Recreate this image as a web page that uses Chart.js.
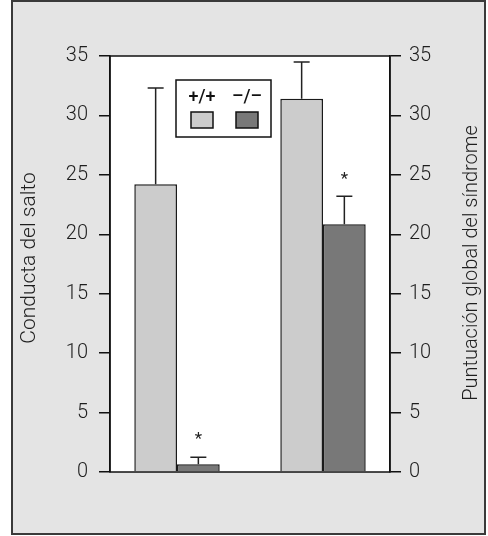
<!DOCTYPE html>
<html><head><meta charset="utf-8">
<script src="https://cdn.jsdelivr.net/npm/chart.js@4/dist/chart.umd.min.js"></script>
<style>html,body{margin:0;padding:0;background:#fff;}#wrap{width:488px;height:536px;}</style>
</head><body><div id="wrap"><canvas id="c" width="488" height="536"></canvas></div>
<script>
// ---- data ----
const groupPos = [1, 2];                     // group 1 (left axis), group 2 (right axis)
const seriesLabels = ['+/+', '\u2013/\u2013'];
const wildType = [24.2, 31.4];
const wildTypeErr = [32.3, 34.5];            // top of error bar
const knockout = [0.65, 20.85];
const knockoutErr = [1.25, 23.2];
const knockoutSig = ['*', '*'];
const yTicks = [0, 5, 10, 15, 20, 25, 30, 35];
const leftTitle = 'Conducta del salto';
const rightTitle = 'Puntuaci\u00f3n global del s\u00edndrome';

const FONT = 'Roboto';
const TXT = '#1e1e1e';

const bgPlugin = {
  id: 'bg',
  beforeDraw(chart) {
    const ctx = chart.ctx, a = chart.chartArea;
    ctx.save();
    ctx.fillStyle = '#ffffff';
    ctx.fillRect(0, 0, chart.width, chart.height);
    ctx.fillStyle = '#e4e4e4';
    ctx.fillRect(12, 1, 473, 533);
    ctx.strokeStyle = '#3a3a3a';
    ctx.lineWidth = 2;
    ctx.strokeRect(12, 1, 473, 533);
    ctx.fillStyle = '#ffffff';
    ctx.fillRect(a.left, a.top, a.right - a.left, a.bottom - a.top);
    ctx.restore();
  },
  afterDraw(chart) {
    const ctx = chart.ctx, a = chart.chartArea;
    ctx.save();
    ctx.strokeStyle = '#111';
    ctx.lineWidth = 1.5;
    ctx.strokeRect(a.left, a.top, a.right - a.left, a.bottom - a.top);
    // axis titles
    ctx.fillStyle = TXT;
    ctx.textAlign = 'center';
    ctx.textBaseline = 'middle';
    const cy = (a.top + a.bottom) / 2;
    ctx.font = '300 21px ' + FONT;
    ctx.save(); ctx.translate(30, cy - 6); ctx.rotate(-Math.PI / 2); ctx.fillText(leftTitle, 0, 0); ctx.restore();
    ctx.font = '300 20px ' + FONT;
    ctx.save(); ctx.translate(472, cy - 1); ctx.rotate(-Math.PI / 2); ctx.fillText(rightTitle, 0, 0); ctx.restore();
    // legend
    const lx = a.left + 66, ly = a.top + 24, lw = 95, lh = 57;
    ctx.fillStyle = '#fff';
    ctx.fillRect(lx, ly, lw, lh);
    ctx.strokeStyle = '#111';
    ctx.lineWidth = 1.5;
    ctx.strokeRect(lx, ly, lw, lh);
    chart.data.datasets.forEach((ds, i) => {
      const cx = lx + 26 + i * 45;
      ctx.fillStyle = '#111';
      ctx.font = '500 18px ' + FONT;
      ctx.textAlign = 'center';
      ctx.textBaseline = 'middle';
      ctx.fillText(ds.label, cx, ly + 17);
      ctx.fillStyle = ds.backgroundColor;
      ctx.fillRect(cx - 11, ly + 32, 22, 16);
      ctx.lineWidth = 1.5;
      ctx.strokeStyle = '#111';
      ctx.strokeRect(cx - 11, ly + 32, 22, 16);
    });
    ctx.restore();
  },
  afterDatasetsDraw(chart) {
    const ctx = chart.ctx, ys = chart.scales.y;
    ctx.save();
    ctx.strokeStyle = '#222';
    ctx.lineWidth = 1.5;
    chart.data.datasets.forEach((ds, i) => {
      const meta = chart.getDatasetMeta(i);
      meta.data.forEach((bar, j) => {
        const top = ys.getPixelForValue(ds.errTop[j]);
        ctx.beginPath();
        ctx.moveTo(bar.x, bar.y);
        ctx.lineTo(bar.x, top);
        ctx.moveTo(bar.x - 8, top);
        ctx.lineTo(bar.x + 8, top);
        ctx.stroke();
        if (ds.sig && ds.sig[j]) {
          ctx.fillStyle = '#222';
          ctx.font = '400 17px ' + FONT;
          ctx.textAlign = 'center';
          ctx.textBaseline = 'middle';
          ctx.fillText(ds.sig[j], bar.x, top - 17);
        }
      });
    });
    ctx.restore();
  }
};

const yCommon = (pos, width, pad) => ({
  position: pos,
  min: 0, max: 35,
  afterBuildTicks(s) { s.ticks = yTicks.map(v => ({ value: v })); },
  afterFit(s) { s.width = width; },
  grid: { drawOnChartArea: false, tickLength: 11, color: '#111', lineWidth: 1.5 },
  border: { color: '#111', width: 1.5 },
  ticks: { color: TXT, font: { family: FONT, size: 20, weight: 300 }, padding: pad }
});

new Chart(document.getElementById('c'), {
  type: 'bar',
  data: {
    datasets: [
      { label: seriesLabels[0], data: groupPos.map((x, i) => ({ x, y: wildType[i] })), errTop: wildTypeErr,
        backgroundColor: '#cccccc', borderColor: '#1a1a1a', borderWidth: 1.5 },
      { label: seriesLabels[1], data: groupPos.map((x, i) => ({ x, y: knockout[i] })), errTop: knockoutErr, sig: knockoutSig,
        backgroundColor: '#787878', borderColor: '#1a1a1a', borderWidth: 1.5 }
    ]
  },
  options: {
    responsive: false, animation: false, devicePixelRatio: 1,
    barPercentage: 1, categoryPercentage: 0.585,
    layout: { padding: { top: 56, bottom: 64, left: 0, right: 0 } },
    plugins: { legend: { display: false }, tooltip: { enabled: false } },
    scales: {
      x: { type: 'linear', display: false, offset: false, min: 0.5411, max: 2.4589,
           afterBuildTicks(s) { s.ticks = groupPos.map(v => ({ value: v })); } },
      y: yCommon('left', 110, 11),
      y2: yCommon('right', 98, 8)
    }
  },
  plugins: [bgPlugin]
});
</script></body></html>
